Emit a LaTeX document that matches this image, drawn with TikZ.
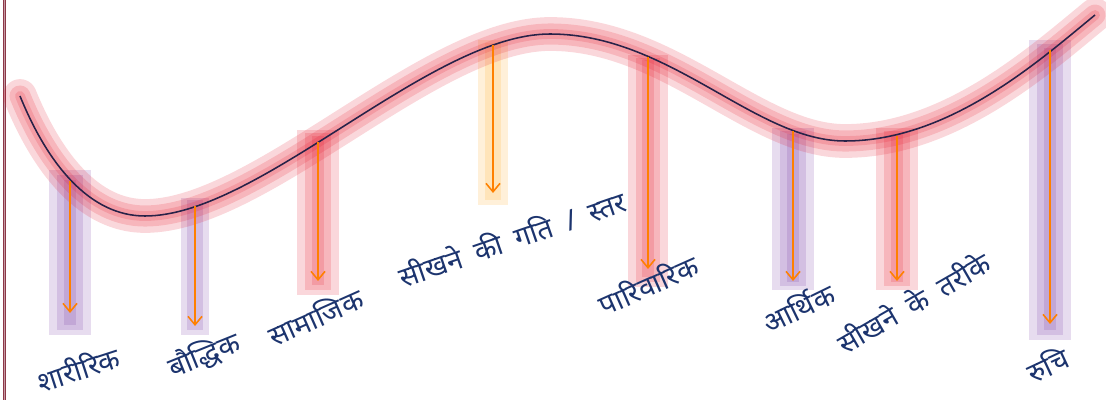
\documentclass[tikz,border=0pt]{standalone}
\usepackage{fontspec}
\newfontfamily\hindi[Script=Devanagari]{Noto Sans}
\usetikzlibrary{arrows.meta}
\definecolor{haloRed}{RGB}{228,20,40}
\definecolor{glowPurple}{RGB}{112,48,160}
\definecolor{glowOrange}{RGB}{255,168,30}
\definecolor{arrowOrange}{RGB}{255,128,0}
\definecolor{labelBlue}{RGB}{28,52,110}
\definecolor{waveInk}{RGB}{40,34,72}
\definecolor{edgeRed}{RGB}{140,55,72}
\tikzset{
  glow/.style={line width=#1, opacity=0.17},
  drop/.style={arrowOrange, line width=1.1pt, -{Straight Barb[length=6pt,width=10pt]}},
  lbltext/.style={labelBlue, font={\hindi\fontsize{20}{24}\selectfont\spaceskip=0.5em\relax}, inner sep=0pt, rotate=#1},
  lbltext/.default=22,
}
\begin{document}
\begin{tikzpicture}[x=0.025cm, y=-0.025cm]
  \useasboundingbox (0,0) rectangle (1106,400);
  \draw[edgeRed, line width=0.5pt, double=edgeRed!50!white, double distance=0.6pt] (4.5,0) -- (4.5,400);
  % glow under the arrows
  \draw[glowPurple, glow=30pt] (70,170) -- (70,335);
  \draw[glowPurple, glow=18pt] (70,175) -- (70,330);
  \draw[glowPurple, glow=8pt] (70,180) -- (70,325);
  \draw[glowPurple, glow=20pt] (195,198) -- (195,335);
  \draw[glowPurple, glow=12pt] (195,200) -- (195,330);
  \draw[haloRed, glow=30pt] (318,130) -- (318,295);
  \draw[haloRed, glow=18pt] (318,133) -- (318,290);
  \draw[haloRed, glow=8pt] (318,136) -- (318,285);
  \draw[glowOrange, glow=22pt] (493,40) -- (493,205);
  \draw[glowOrange, glow=12pt] (493,43) -- (493,200);
  \draw[haloRed, glow=29pt] (648,55) -- (648,287);
  \draw[haloRed, glow=17pt] (648,58) -- (648,282);
  \draw[haloRed, glow=8pt] (648,60) -- (648,277);
  \draw[glowPurple, glow=30pt] (793,128) -- (793,290);
  \draw[glowPurple, glow=18pt] (793,131) -- (793,286);
  \draw[glowPurple, glow=8pt] (793,134) -- (793,282);
  \draw[haloRed, glow=30pt] (897,128) -- (897,290);
  \draw[haloRed, glow=18pt] (897,131) -- (897,286);
  \draw[haloRed, glow=8pt] (897,134) -- (897,282);
  \draw[glowPurple, glow=30pt] (1050,40) -- (1050,340);
  \draw[glowPurple, glow=18pt] (1050,44) -- (1050,335);
  \draw[glowPurple, glow=8pt] (1050,48) -- (1050,330);
  % halo round the wave
  \draw[haloRed, glow=24pt, line cap=round]
    (20,96) .. controls (48,165) and (90,216) .. (145,216)
    .. controls (260,216) and (430,34) .. (550,34)
    .. controls (670,34) and (755,141) .. (845,141)
    .. controls (950,141) and (1040,60) .. (1095,15);
  \draw[haloRed, glow=15pt, line cap=round]
    (20,96) .. controls (48,165) and (90,216) .. (145,216)
    .. controls (260,216) and (430,34) .. (550,34)
    .. controls (670,34) and (755,141) .. (845,141)
    .. controls (950,141) and (1040,60) .. (1095,15);
  \draw[haloRed, glow=7pt, line cap=round]
    (20,96) .. controls (48,165) and (90,216) .. (145,216)
    .. controls (260,216) and (430,34) .. (550,34)
    .. controls (670,34) and (755,141) .. (845,141)
    .. controls (950,141) and (1040,60) .. (1095,15);
  \draw[waveInk, line width=1.1pt]
    (20,96) .. controls (48,165) and (90,216) .. (145,216)
    .. controls (260,216) and (430,34) .. (550,34)
    .. controls (670,34) and (755,141) .. (845,141)
    .. controls (950,141) and (1040,60) .. (1095,15);
  % arrow ends
  \coordinate (top1) at (70,181);
  \coordinate (end1) at (70,313);
  \coordinate (top2) at (195,206);
  \coordinate (end2) at (195,326);
  \coordinate (top3) at (318,142);
  \coordinate (end3) at (318,281);
  \coordinate (top4) at (493,45);
  \coordinate (end4) at (493,193);
  \coordinate (top5) at (648,57);
  \coordinate (end5) at (648,269);
  \coordinate (top6) at (793,131);
  \coordinate (end6) at (793,281);
  \coordinate (top7) at (897,136);
  \coordinate (end7) at (897,281);
  \coordinate (top8) at (1050,50);
  \coordinate (end8) at (1050,324);
  \draw[drop] (top1) -- (end1);
  \draw[drop] (top2) -- (end2);
  \draw[drop] (top3) -- (end3);
  \draw[drop] (top4) -- (end4);
  \draw[drop] (top5) -- (end5);
  \draw[drop] (top6) -- (end6);
  \draw[drop] (top7) -- (end7);
  \draw[drop] (top8) -- (end8);
  % labels
  \node[lbltext=18] (physical) at (78,368) {शारीरिक};
  \node[lbltext] (mental) at (204,355) {बौद्धिक};
  \node[lbltext=24] (social) at (315,316) {सामाजिक};
  \node[lbltext=19] (pace) at (512,238) {सीखने की गति / स्तर};
  \node[lbltext=24] (family) at (648,284) {पारिवारिक};
  \node[lbltext=26] (economic) at (798,307) {आर्थिक};
  \node[lbltext=30] (styles) at (913,302) {सीखने के तरीके};
  \node[lbltext=25] (interest) at (1047,364) {रुचि};
\end{tikzpicture}
\end{document}
